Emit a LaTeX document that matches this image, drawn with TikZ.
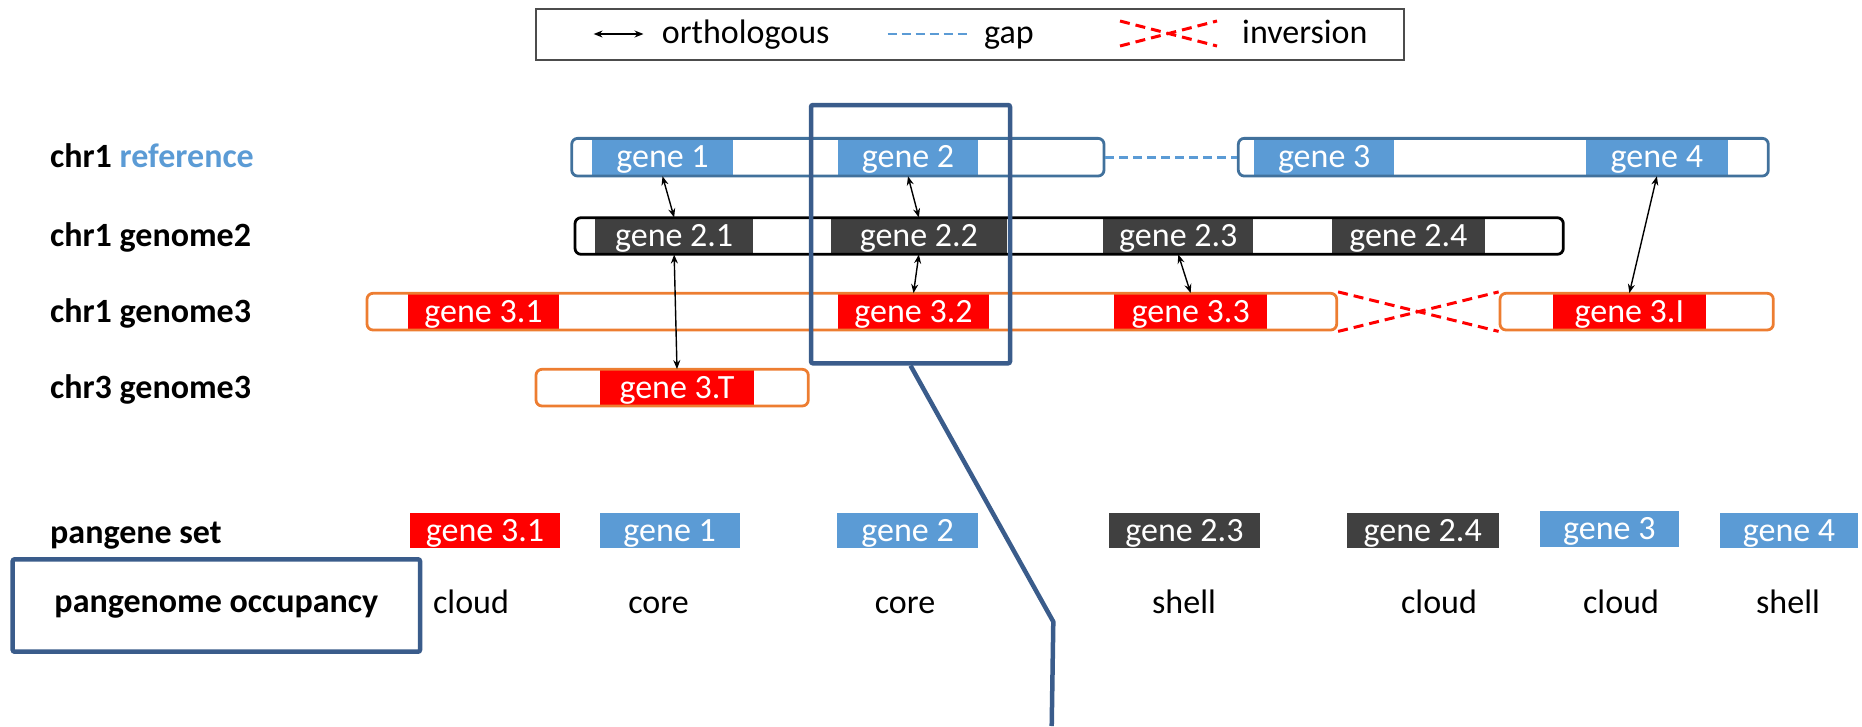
\documentclass[tikz,border=0pt]{standalone}
\usepackage{fontspec}
\setmainfont{Carlito}
\usetikzlibrary{arrows.meta}
\definecolor{geneblue}{HTML}{5B9BD5}
\definecolor{refline}{HTML}{41719C}
\definecolor{darkgene}{HTML}{404040}
\definecolor{genered}{HTML}{FF0000}
\definecolor{orangeline}{HTML}{ED7D31}
\definecolor{calloutblue}{HTML}{3A5C8B}
\begin{document}
\begin{tikzpicture}[x=1pt,y=-1pt,
  txt/.style={font=\fontsize{34}{40}\selectfont, inner sep=0pt, text height=21pt, text depth=0pt},
  lab/.style={txt, font=\fontsize{34}{40}\selectfont\bfseries, anchor=west},
  gene/.style={txt, fill=#1, text=white, minimum height=37pt},
  chrom/.style={draw=#1, line width=2.8pt, rounded corners=6pt, inner sep=0pt, minimum height=37pt},
  ortho/.style={line width=1.4pt, {Stealth[length=9pt,width=7pt]}-{Stealth[length=9pt,width=7pt]}},
  gapline/.style={geneblue, line width=2.6pt, dash pattern=on 9pt off 5pt},
  invline/.style={genered, line width=3pt, dash pattern=on 10pt off 6pt},
  frame/.style={draw=calloutblue, line width=4.5pt, rounded corners=2pt, inner sep=0pt},
]
\useasboundingbox (0,0) rectangle (1862,726);

% legend
\node[draw=black!70, line width=2.5pt, minimum width=868pt, minimum height=51pt, inner sep=0pt] (legend) at (969.85,34.5) {};
\coordinate (oa) at (593.6,34);
\coordinate (ob) at (643.5,34);
\draw[ortho] (oa) -- (ob);
\node[txt, anchor=west] (lortho) at (661.7,33) {orthologous};
\coordinate (ga) at (887.5,34);
\coordinate (gb) at (970,34);
\draw[gapline] (ga) -- (gb);
\node[txt, anchor=west] (lgap) at (984,33) {gap};
\coordinate (xa) at (1120,21);
\coordinate (xb) at (1217,21);
\coordinate (xc) at (1120,46);
\coordinate (xd) at (1217,46);
\draw[invline] (xa) -- (xd);
\draw[invline] (xc) -- (xb);
\node[txt, anchor=west] (linv) at (1242,33) {inversion};

% row labels
\node[lab] (l1) at (50,157.2) {chr1 \textcolor{geneblue}{reference}};
\node[lab] (l2) at (50,236) {chr1 genome2};
\node[lab] (l3) at (50,311.65) {chr1 genome3};
\node[lab] (l4) at (50,387.65) {chr3 genome3};
\node[lab] (l5) at (50,533) {pangene set};

% reference chromosome
\node[gene=geneblue, minimum width=141.6pt, minimum height=37.7pt] (g1) at (662.5,157.2) {gene 1};
\node[gene=geneblue, minimum width=140.6pt, minimum height=37.7pt] (g2) at (908,157.2) {gene 2};
\node[gene=geneblue, minimum width=140.3pt, minimum height=37.7pt] (g3) at (1324.15,157.2) {gene 3};
\node[gene=geneblue, minimum width=141.7pt, minimum height=37.7pt] (g4) at (1656.85,157.2) {gene 4};
\node[chrom=refline, minimum width=532.3pt, minimum height=37.7pt] (rb1) at (837.85,157.2) {};
\node[chrom=refline, minimum width=530pt, minimum height=37.7pt] (rb2) at (1503.3,157.2) {};

% genome2 chromosome
\node[gene=darkgene, minimum width=158.3pt, minimum height=36.6pt] (g21) at (674.15,236) {gene 2.1};
\node[gene=darkgene, minimum width=176.3pt, minimum height=36.6pt] (g22) at (918.85,236) {gene 2.2};
\node[gene=darkgene, minimum width=150pt, minimum height=36.6pt] (g23) at (1178.3,236) {gene 2.3};
\node[gene=darkgene, minimum width=153.3pt, minimum height=36.6pt] (g24) at (1408.35,236) {gene 2.4};
\node[chrom=black, minimum width=988.3pt, minimum height=36.6pt] (gb2) at (1069.15,236) {};

% genome3 chromosomes
\node[gene=genered, minimum width=151pt, minimum height=36.7pt] (g31) at (483.5,311.65) {gene 3.1};
\node[gene=genered, minimum width=151.6pt, minimum height=36.7pt] (g32) at (913.5,311.65) {gene 3.2};
\node[gene=genered, minimum width=153.3pt, minimum height=36.7pt] (g33) at (1190.65,311.65) {gene 3.3};
\node[gene=genered, minimum width=153.3pt, minimum height=36.7pt] (g3I) at (1629.35,311.65) {gene 3.I};
\node[chrom=orangeline, minimum width=969.7pt, minimum height=36.7pt] (ob1) at (851.85,311.65) {};
\node[chrom=orangeline, minimum width=273.3pt, minimum height=36.7pt] (ob2) at (1636.65,311.65) {};
\node[gene=genered, minimum width=154pt, minimum height=36.7pt] (g3T) at (677,387.65) {gene 3.T};
\node[chrom=orangeline, minimum width=272.3pt, minimum height=36.7pt] (tb) at (672.15,387.65) {};

% gap and inversion
\draw[gapline] (rb1.east) -- (rb2.west);
\draw[invline] (ob1.north east) -- (ob2.south west);
\draw[invline] (ob1.south east) -- (ob2.north west);

% orthologous links
\draw[ortho] (g1.south) -- (g21.north);
\draw[ortho] (g21.south) -- (g3T.north);
\draw[ortho] (g2.south) -- (g22.north);
\draw[ortho] (g22.south) -- (g32.north);
\draw[ortho] (g23.south) -- (g33.north);
\draw[ortho] (g4.south) -- (g3I.north);

% pangene set
\node[gene=genered, minimum width=150pt, minimum height=35.6pt] (p31) at (485,530.5) {gene 3.1};
\node[gene=geneblue, minimum width=140.3pt, minimum height=35.6pt] (p1) at (669.65,530.5) {gene 1};
\node[gene=geneblue, minimum width=140.3pt, minimum height=35.6pt] (p2) at (907.55,530.5) {gene 2};
\node[gene=darkgene, minimum width=150.1pt, minimum height=35.6pt] (p23) at (1184.45,530.5) {gene 2.3};
\node[gene=darkgene, minimum width=151.9pt, minimum height=35.6pt] (p24) at (1422.65,530.5) {gene 2.4};
\node[gene=geneblue, minimum width=139.4pt, minimum height=35.6pt] (p3) at (1609.3,529) {gene 3};
\node[gene=geneblue, minimum width=138.9pt, minimum height=35.6pt] (p4) at (1789,530.5) {gene 4};

% occupancy
\node[frame, txt, font=\fontsize{34}{40}\selectfont\bfseries, text depth=8pt, minimum width=407.3pt, minimum height=92.4pt] (occ) at (216.35,605.5) {pangenome occupancy};
\node[txt] (o1) at (471,603) {cloud};
\node[txt] (o2) at (658.5,603) {core};
\node[txt] (o3) at (905,603) {core};
\node[txt] (o4) at (1184,603) {shell};
\node[txt] (o5) at (1439,603) {cloud};
\node[txt] (o6) at (1621,603) {cloud};
\node[txt] (o7) at (1788,603) {shell};

% highlighted region and its callout
\node[frame, minimum width=199pt, minimum height=258.3pt] (hl) at (910.5,234.15) {};
\coordinate (k1) at (1053.3,621.7);
\coordinate (k2) at (1051.7,726);
\draw[calloutblue, line width=4.5pt, line join=round] (hl.south) -- (k1) -- (k2);
\end{tikzpicture}
\end{document}
